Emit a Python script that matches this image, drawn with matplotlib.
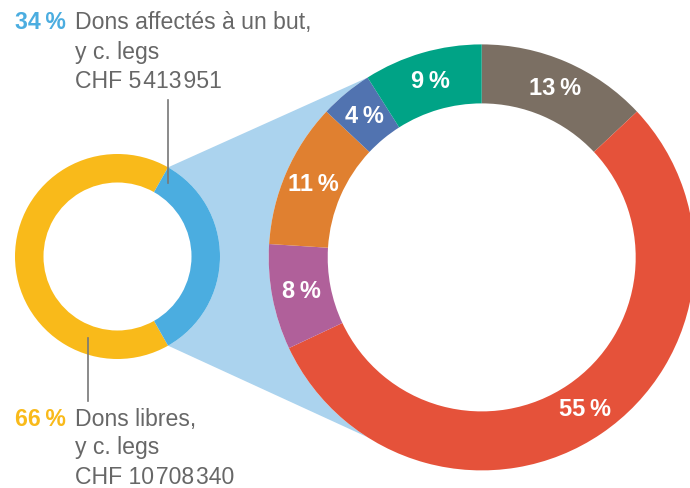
import numpy as np
import matplotlib.pyplot as plt

plt.rcParams['font.family'] = ['Liberation Sans', 'DejaVu Sans']

# small donut: free vs earmarked donations (CHF)
main_labels = ['Dons libres,', 'Dons affectés à un but,']
main_amounts = [10708340, 5413951]
main_colors = ['#F9BA1A', '#4BADE0']

# large donut: breakdown of earmarked donations (%)
detail_shares = [13, 55, 8, 11, 4, 9]
detail_colors = ['#7B6F63', '#E5523A', '#B0609A', '#E08030', '#5173B0', '#00A386']

cone_color = '#ABD3EE'
grey = '#676767'

def fmt_chf(v):
    return 'CHF ' + f'{v:,}'.replace(',', '\u200a')

fig = plt.figure(figsize=(6.9, 4.88), dpi=100)
ax = fig.add_axes([0, 0, 1, 1])

# geometry in pixel-like units (y up)
c_small = (117.5, 231.5)
r_small, w_small = 102.5, 28.5
c_big = (481.7, 230.6)
r_big, w_big = 213.0, 59.0

total = sum(main_amounts)
pct = [a / total * 100 for a in main_amounts]
half = pct[1] / 100 * 360 / 2

ax.pie(main_amounts, colors=main_colors, startangle=half, counterclock=True,
       center=c_small, radius=r_small, wedgeprops=dict(width=w_small))

ax.pie(detail_shares, colors=detail_colors, startangle=90, counterclock=False,
       center=c_big, radius=r_big, wedgeprops=dict(width=w_big),
       autopct=lambda p: f'{p:.0f}\u2009%', pctdistance=(r_big - w_big / 2) / r_big,
       textprops=dict(color='white', fontsize=17, fontweight='bold'))

# connecting cone between the two donuts
big_a = 90 + detail_shares[-1] / 100 * 360
t1 = np.radians(np.linspace(big_a, 360 - big_a, 60))
t2 = np.radians(np.linspace(-half, half, 40))
xs = np.concatenate([c_big[0] + r_big * np.cos(t1), c_small[0] + r_small * np.cos(t2)])
ys = np.concatenate([c_big[1] + r_big * np.sin(t1), c_small[1] + r_small * np.sin(t2)])
ax.fill(xs, ys, color=cone_color, zorder=0, lw=0)

# leader lines
ax.plot([167.7, 167.7], [488 - 100, 488 - 183.3], color='#777777', lw=1.2)
ax.plot([88.3, 88.3], [488 - 338, 488 - 400.7], color='#777777', lw=1.2)

# annotations
fs = 16.6
ax.text(15, 458.7, f'{pct[1]:.0f}\u2009%', color=main_colors[1], fontsize=fs,
        fontweight='bold', va='baseline')
ax.text(75, 458.7, main_labels[1], color=grey, fontsize=fs, va='baseline')
ax.text(75, 429.5, 'y c. legs', color=grey, fontsize=fs, va='baseline')
ax.text(75, 400.0, fmt_chf(main_amounts[1]), color=grey, fontsize=fs, va='baseline')

ax.text(15, 62.3, f'{pct[0]:.0f}\u2009%', color=main_colors[0], fontsize=fs,
        fontweight='bold', va='baseline')
ax.text(75, 62.3, main_labels[0], color=grey, fontsize=fs, va='baseline')
ax.text(75, 34.0, 'y c. legs', color=grey, fontsize=fs, va='baseline')
ax.text(75, 4.5, fmt_chf(main_amounts[0]), color=grey, fontsize=fs, va='baseline')

ax.set_xlim(0, 690)
ax.set_ylim(0, 488)
ax.set_aspect('equal')
ax.axis('off')

fig.savefig('out.png', dpi=100)
